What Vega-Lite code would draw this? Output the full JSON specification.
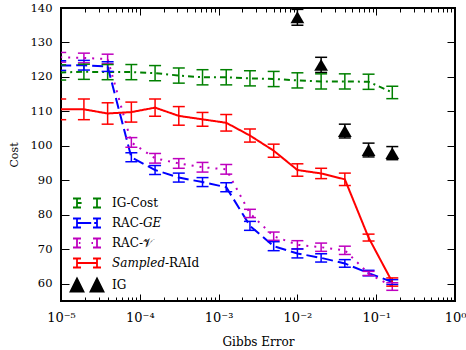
{
  "$schema": "https://vega.github.io/schema/vega-lite/v6.json",
  "width": 394,
  "height": 293,
  "autosize": "none",
  "padding": {"left": 61, "top": 8, "right": 11, "bottom": 49},
  "background": "white",
  "config": {
    "view": {"stroke": "black", "strokeWidth": 2},
    "font": "DejaVu Serif",
    "axis": {"grid": false, "domain": false, "tickColor": "black", "labelColor": "black", "titleColor": "black", "tickWidth": 1}
  },
  "data": {"values": [
    {"s": "IG-Cost", "x": 0.0000097656, "y": 121.3, "lo": 119.1, "hi": 123.5},
    {"s": "IG-Cost", "x": 0.0000195313, "y": 121.5, "lo": 119.3, "hi": 123.7},
    {"s": "IG-Cost", "x": 0.0000390625, "y": 121.4, "lo": 119.2, "hi": 123.6},
    {"s": "IG-Cost", "x": 0.000078125, "y": 121.4, "lo": 119.2, "hi": 123.6},
    {"s": "IG-Cost", "x": 0.00015625, "y": 121.1, "lo": 118.9, "hi": 123.3},
    {"s": "IG-Cost", "x": 0.0003125, "y": 120.4, "lo": 118.2, "hi": 122.6},
    {"s": "IG-Cost", "x": 0.000625, "y": 119.9, "lo": 117.7, "hi": 122.1},
    {"s": "IG-Cost", "x": 0.00125, "y": 119.9, "lo": 117.7, "hi": 122.1},
    {"s": "IG-Cost", "x": 0.0025, "y": 119.6, "lo": 117.4, "hi": 121.8},
    {"s": "IG-Cost", "x": 0.005, "y": 119.4, "lo": 117.2, "hi": 121.6},
    {"s": "IG-Cost", "x": 0.01, "y": 119.0, "lo": 116.8, "hi": 121.2},
    {"s": "IG-Cost", "x": 0.02, "y": 118.7, "lo": 116.5, "hi": 120.9},
    {"s": "IG-Cost", "x": 0.04, "y": 118.7, "lo": 116.5, "hi": 120.9},
    {"s": "IG-Cost", "x": 0.08, "y": 118.6, "lo": 116.4, "hi": 120.8},
    {"s": "IG-Cost", "x": 0.16, "y": 115.5, "lo": 113.7, "hi": 117.3},
    {"s": "RAC-GE", "x": 0.0000097656, "y": 123.3, "lo": 121.9, "hi": 124.7},
    {"s": "RAC-GE", "x": 0.0000195313, "y": 123.4, "lo": 122.0, "hi": 124.8},
    {"s": "RAC-GE", "x": 0.0000390625, "y": 123.0, "lo": 121.6, "hi": 124.4},
    {"s": "RAC-GE", "x": 0.000078125, "y": 96.7, "lo": 95.4, "hi": 98.0},
    {"s": "RAC-GE", "x": 0.00015625, "y": 93.0, "lo": 91.7, "hi": 94.3},
    {"s": "RAC-GE", "x": 0.0003125, "y": 90.8, "lo": 89.5, "hi": 92.1},
    {"s": "RAC-GE", "x": 0.000625, "y": 89.5, "lo": 88.2, "hi": 90.8},
    {"s": "RAC-GE", "x": 0.00125, "y": 88.0, "lo": 86.7, "hi": 89.3},
    {"s": "RAC-GE", "x": 0.0025, "y": 76.8, "lo": 75.5, "hi": 78.1},
    {"s": "RAC-GE", "x": 0.005, "y": 70.9, "lo": 69.6, "hi": 72.2},
    {"s": "RAC-GE", "x": 0.01, "y": 68.8, "lo": 67.5, "hi": 70.1},
    {"s": "RAC-GE", "x": 0.02, "y": 67.5, "lo": 66.3, "hi": 68.7},
    {"s": "RAC-GE", "x": 0.04, "y": 65.9, "lo": 64.8, "hi": 67.0},
    {"s": "RAC-GE", "x": 0.08, "y": 63.1, "lo": 62.3, "hi": 63.9},
    {"s": "RAC-GE", "x": 0.16, "y": 60.5, "lo": 59.8, "hi": 61.2},
    {"s": "RAC-V", "x": 0.0000097656, "y": 125.7, "lo": 124.3, "hi": 127.1},
    {"s": "RAC-V", "x": 0.0000195313, "y": 125.5, "lo": 124.1, "hi": 126.9},
    {"s": "RAC-V", "x": 0.0000390625, "y": 125.2, "lo": 123.8, "hi": 126.6},
    {"s": "RAC-V", "x": 0.000078125, "y": 101.0, "lo": 99.6, "hi": 102.4},
    {"s": "RAC-V", "x": 0.00015625, "y": 96.4, "lo": 95.0, "hi": 97.8},
    {"s": "RAC-V", "x": 0.0003125, "y": 94.9, "lo": 93.5, "hi": 96.3},
    {"s": "RAC-V", "x": 0.000625, "y": 93.8, "lo": 92.4, "hi": 95.2},
    {"s": "RAC-V", "x": 0.00125, "y": 93.2, "lo": 91.8, "hi": 94.6},
    {"s": "RAC-V", "x": 0.0025, "y": 80.4, "lo": 79.2, "hi": 81.6},
    {"s": "RAC-V", "x": 0.005, "y": 73.8, "lo": 72.6, "hi": 75.0},
    {"s": "RAC-V", "x": 0.01, "y": 71.3, "lo": 70.1, "hi": 72.5},
    {"s": "RAC-V", "x": 0.02, "y": 70.6, "lo": 69.4, "hi": 71.8},
    {"s": "RAC-V", "x": 0.04, "y": 69.7, "lo": 68.5, "hi": 70.9},
    {"s": "RAC-V", "x": 0.08, "y": 63.0, "lo": 62.4, "hi": 63.6},
    {"s": "RAC-V", "x": 0.16, "y": 59.2, "lo": 58.1, "hi": 60.3},
    {"s": "Sampled-RAId", "x": 0.0000097656, "y": 110.6, "lo": 107.6, "hi": 113.6},
    {"s": "Sampled-RAId", "x": 0.0000195313, "y": 110.6, "lo": 107.6, "hi": 113.6},
    {"s": "Sampled-RAId", "x": 0.0000390625, "y": 109.4, "lo": 106.3, "hi": 112.5},
    {"s": "Sampled-RAId", "x": 0.000078125, "y": 109.8, "lo": 106.9, "hi": 112.7},
    {"s": "Sampled-RAId", "x": 0.00015625, "y": 111.1, "lo": 108.6, "hi": 113.6},
    {"s": "Sampled-RAId", "x": 0.0003125, "y": 108.7, "lo": 106.0, "hi": 111.4},
    {"s": "Sampled-RAId", "x": 0.000625, "y": 107.7, "lo": 105.7, "hi": 109.7},
    {"s": "Sampled-RAId", "x": 0.00125, "y": 106.7, "lo": 104.3, "hi": 109.1},
    {"s": "Sampled-RAId", "x": 0.0025, "y": 103.0, "lo": 101.1, "hi": 104.9},
    {"s": "Sampled-RAId", "x": 0.005, "y": 98.6, "lo": 96.7, "hi": 100.5},
    {"s": "Sampled-RAId", "x": 0.01, "y": 93.0, "lo": 91.2, "hi": 94.8},
    {"s": "Sampled-RAId", "x": 0.02, "y": 92.0, "lo": 90.5, "hi": 93.5},
    {"s": "Sampled-RAId", "x": 0.04, "y": 90.3, "lo": 88.5, "hi": 92.1},
    {"s": "Sampled-RAId", "x": 0.08, "y": 73.4, "lo": 72.4, "hi": 74.4},
    {"s": "Sampled-RAId", "x": 0.16, "y": 60.5, "lo": 59.3, "hi": 61.7},
    {"s": "IG", "x": 0.01, "y": 137.3, "lo": 135.0, "hi": 139.6},
    {"s": "IG", "x": 0.02, "y": 123.5, "lo": 121.3, "hi": 125.7},
    {"s": "IG", "x": 0.04, "y": 104.3, "lo": 102.3, "hi": 106.3},
    {"s": "IG", "x": 0.08, "y": 98.8, "lo": 96.8, "hi": 100.8},
    {"s": "IG", "x": 0.16, "y": 97.9, "lo": 96.0, "hi": 99.8}
  ]},
  "encoding": {
    "color": {
      "field": "s", "type": "nominal",
      "scale": {"domain": ["IG-Cost", "RAC-GE", "RAC-V", "Sampled-RAId", "IG"], "range": ["#008000", "#0000ff", "#bf00bf", "#ff0000", "#000000"]},
      "legend": {
        "title": null, "orient": "none", "legendX": 19, "legendY": 188, "padding": 0,
        "labelFont": "DejaVu Serif", "labelFontSize": 12, "labelColor": "black", "labelOffset": 18, "rowPadding": 2,
        "symbolSize": 144, "symbolStrokeWidth": 1.8,
        "labelExpr": "datum.value == 'RAC-GE' ? 'RAC-𝐺𝐸' : datum.value == 'RAC-V' ? 'RAC-𝒱' : datum.value == 'Sampled-RAId' ? '𝑆𝑎𝑚𝑝𝑙𝑒𝑑-RAId' : datum.value",
        "encode": {"symbols": {"update": {
          "shape": {"signal": "datum.value == 'IG' ? 'M -2.75 1.083 L -0.583 1.083 L -1.667 -1.083 Z M 0.583 1.083 L 2.75 1.083 L 1.667 -1.083 Z' : 'M -2.333 -0.75 L -1 -0.75 M -2.333 0.75 L -1 0.75 M -1.667 -0.75 L -1.667 0.75 M 1 -0.75 L 2.333 -0.75 M 1 0.75 L 2.333 0.75 M 1.667 -0.75 L 1.667 0.75 ' + (datum.value == 'IG-Cost' ? 'M -1.667 0 L -0.9 0' : datum.value == 'RAC-GE' ? 'M -1.667 0 L 0.7 0 M 1.2 0 L 1.667 0' : datum.value == 'RAC-V' ? 'M -1.35 0 L -1.1 0 M 0.75 0 L 1.0 0' : 'M -1.667 0 L 1.667 0')"},
          "size": {"value": 144},
          "fill": {"signal": "datum.value == 'IG' ? 'black' : 'transparent'"},
          "stroke": {"scale": "color", "field": "value"},
          "strokeWidth": {"value": 1.8},
          "strokeDash": {"value": []},
          "opacity": {"value": 1}
        }}}
      }
    }
  },
  "layer": [
    {
      "transform": [{"filter": "datum.s != 'IG'"}],
      "mark": {"type": "line", "strokeWidth": 2, "clip": true},
      "encoding": {
        "x": {"field": "x", "type": "quantitative",
          "scale": {"type": "log", "domain": [0.00001, 1], "nice": false},
          "axis": {"orient": "bottom", "values": [0.00001, 0.0001, 0.001, 0.01, 0.1, 1], "ticks": false,
            "labelExpr": "'10' + (datum.value >= 1 ? '⁰' : '⁻' + ['⁰','¹','²','³','⁴','⁵'][round(-log(datum.value)/LN10)])",
            "labelFontSize": 13, "labelPadding": 10, "labelFlush": false,
            "title": "Gibbs Error", "titleFontSize": 12, "titleFontWeight": "normal", "titlePadding": 12}},
        "y": {"field": "y", "type": "quantitative",
          "scale": {"domain": [55, 140], "nice": false, "zero": false},
          "axis": {"orient": "left", "values": [60, 70, 80, 90, 100, 110, 120, 130, 140], "ticks": false,
            "labelFontSize": 11.5, "labelPadding": 9, "labelFlush": false,
            "title": "Cost", "titleFontSize": 11, "titleFontWeight": "normal", "titlePadding": 11}},
        "strokeDash": {"field": "s", "type": "nominal", "legend": null,
          "scale": {"domain": ["IG-Cost", "RAC-GE", "RAC-V", "Sampled-RAId"], "range": [[6, 4, 2, 4], [11, 5], [2, 6], [1, 0]]}}
      }
    },
    {
      "mark": {"type": "rule", "strokeWidth": 1.5, "clip": true},
      "encoding": {
        "x": {"field": "x", "type": "quantitative",
          "scale": {"type": "log", "domain": [0.00001, 1], "nice": false},
          "axis": {"orient": "bottom", "values": [0.00001, 0.0001, 0.001, 0.01, 0.1, 1], "labels": false, "tickSize": 7, "offset": -7, "title": null}},
        "y": {"field": "lo", "type": "quantitative",
          "scale": {"domain": [55, 140], "nice": false, "zero": false},
          "axis": {"orient": "left", "values": [60, 70, 80, 90, 100, 110, 120, 130, 140], "labels": false, "tickSize": 8, "offset": -8, "title": null}},
        "y2": {"field": "hi"}
      }
    },
    {
      "mark": {"type": "tick", "orient": "horizontal", "size": 12, "thickness": 1.5, "clip": true, "opacity": 1},
      "encoding": {
        "x": {"field": "x", "type": "quantitative",
          "scale": {"type": "log", "domain": [0.00001, 1], "nice": false},
          "axis": {"orient": "bottom", "labels": false, "tickSize": 4, "offset": -4, "title": null,
            "values": [0.00002, 0.00003, 0.00004, 0.00005, 0.00006, 0.00007, 0.00008, 0.00009, 0.0002, 0.0003, 0.0004, 0.0005, 0.0006, 0.0007, 0.0008, 0.0009, 0.002, 0.003, 0.004, 0.005, 0.006, 0.007, 0.008, 0.009, 0.02, 0.03, 0.04, 0.05, 0.06, 0.07, 0.08, 0.09, 0.2, 0.3, 0.4, 0.5, 0.6, 0.7, 0.8, 0.9]}},
        "y": {"field": "lo", "type": "quantitative",
          "scale": {"domain": [55, 140], "nice": false, "zero": false},
          "axis": {"orient": "right", "values": [60, 70, 80, 90, 100, 110, 120, 130, 140], "labels": false, "tickSize": 8, "offset": -8, "title": null}}
      }
    },
    {
      "mark": {"type": "tick", "orient": "horizontal", "size": 12, "thickness": 1.5, "clip": true, "opacity": 1},
      "encoding": {
        "x": {"field": "x", "type": "quantitative",
          "scale": {"type": "log", "domain": [0.00001, 1], "nice": false},
          "axis": {"orient": "top", "values": [0.00001, 0.0001, 0.001, 0.01, 0.1, 1], "labels": false, "tickSize": 7, "offset": -7, "title": null}},
        "y": {"field": "hi", "type": "quantitative",
          "scale": {"domain": [55, 140], "nice": false, "zero": false},
          "axis": null}
      }
    },
    {
      "transform": [{"filter": "datum.s == 'IG'"}],
      "mark": {"type": "point", "shape": "triangle-up", "filled": true, "size": 190, "opacity": 1, "clip": true},
      "encoding": {
        "x": {"field": "x", "type": "quantitative",
          "scale": {"type": "log", "domain": [0.00001, 1], "nice": false},
          "axis": {"orient": "top", "labels": false, "tickSize": 4, "offset": -4, "title": null,
            "values": [0.00002, 0.00003, 0.00004, 0.00005, 0.00006, 0.00007, 0.00008, 0.00009, 0.0002, 0.0003, 0.0004, 0.0005, 0.0006, 0.0007, 0.0008, 0.0009, 0.002, 0.003, 0.004, 0.005, 0.006, 0.007, 0.008, 0.009, 0.02, 0.03, 0.04, 0.05, 0.06, 0.07, 0.08, 0.09, 0.2, 0.3, 0.4, 0.5, 0.6, 0.7, 0.8, 0.9]}},
        "y": {"field": "y", "type": "quantitative",
          "scale": {"domain": [55, 140], "nice": false, "zero": false},
          "axis": null}
      }
    }
  ],
  "resolve": {"axis": {"x": "independent", "y": "independent"}}
}
